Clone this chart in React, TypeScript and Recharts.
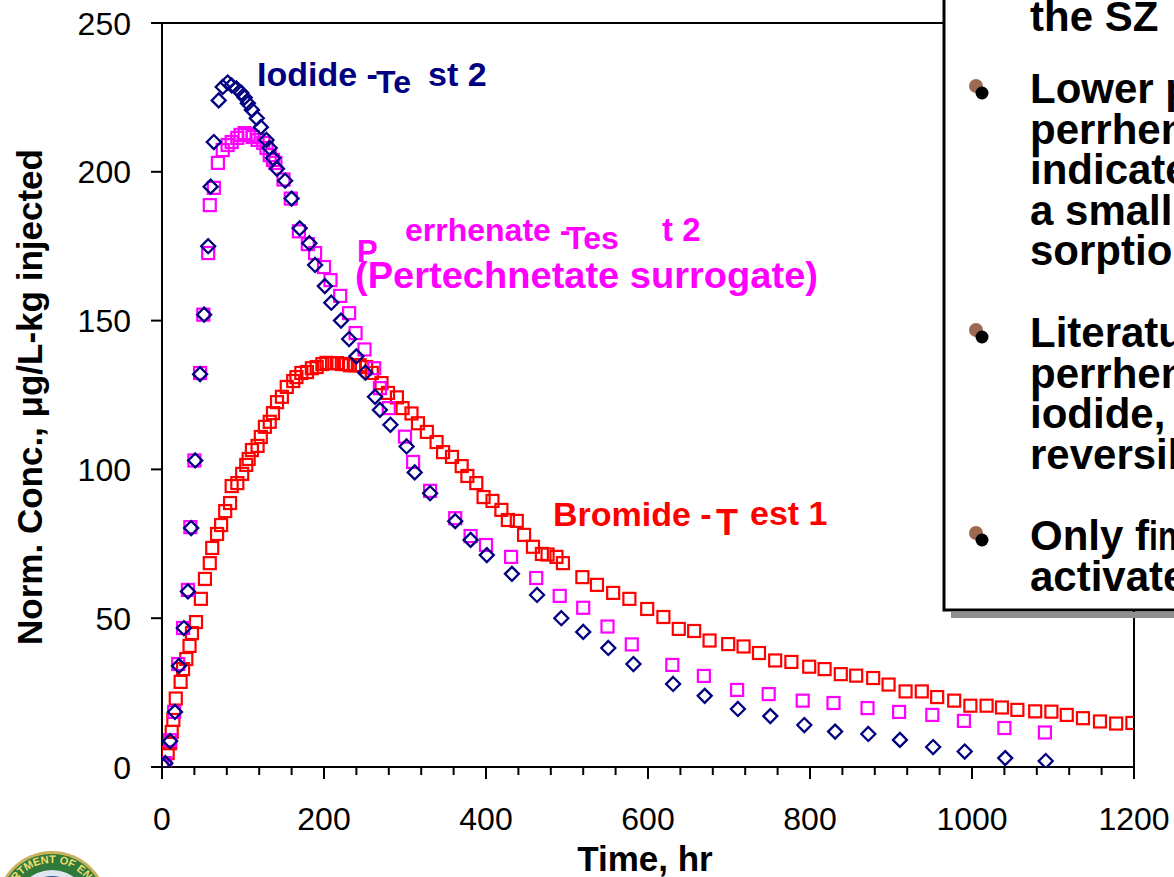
import { ReferenceLine, Scatter, ScatterChart, XAxis, YAxis } from "recharts";

// Iodide - Test 2 (navy diamonds)
const iodideTime = [1, 4, 10, 16, 21, 27, 32, 36, 41, 47, 52, 57, 60, 64, 70, 75, 81, 86, 92, 98, 102, 106, 111, 117, 122, 129, 133, 137, 142, 152, 160, 170, 182, 189, 201, 209, 221, 231, 240, 251, 263, 269, 282, 302, 312, 331, 362, 381, 401, 432, 463, 493, 520, 551, 582, 631, 670, 711, 751, 793, 831, 872, 911, 952, 991, 1041, 1091];
const iodideConc = [0.5, 1.3, 8.7, 18.5, 34, 46.7, 59, 80.3, 103, 132, 152, 175, 195, 210, 224, 228.5, 230, 229, 228, 226.5, 225, 223, 220.8, 218, 215, 210.7, 208, 204.6, 201, 197, 191, 181, 176, 168.7, 161.6, 156, 150, 143.8, 138, 132.5, 124.4, 120, 115, 107.7, 99, 92, 82.6, 76.3, 71.2, 64.9, 57.8, 50, 45.4, 40, 34.6, 27.9, 23.9, 19.5, 17.1, 14.1, 11.9, 11.1, 9.1, 6.7, 5.2, 3, 2];

// Perrhenate - Test 2 (magenta squares)
const perrhenateTime = [0, 4, 10, 15, 20, 26, 32, 35, 40, 47, 51, 57, 59, 64, 69, 75, 81, 86, 93, 97, 102, 107, 112, 118, 125, 129, 133, 137, 140, 150, 159, 169, 180, 189, 200, 208, 220, 231, 239, 250, 262, 269, 280, 300, 310, 331, 362, 381, 400, 431, 462, 491, 520, 550, 580, 630, 669, 710, 749, 791, 829, 871, 910, 951, 990, 1040, 1090];
const perrhenateConc = [0.3, 1.3, 9, 18.5, 34.6, 46.7, 59.5, 80.6, 103, 132.4, 152, 172.7, 188.8, 194.6, 203, 207.3, 209, 210, 211.4, 212.4, 213, 212.4, 211.7, 210.7, 209.7, 208, 205.6, 204, 203, 197.4, 191, 180, 175.7, 172.7, 168, 163.6, 158.3, 152.5, 145.8, 140.3, 134, 127.3, 120.6, 111, 102.5, 92.8, 83.6, 77.6, 74.6, 70.6, 63.5, 57.5, 53.5, 47.2, 41.2, 34.3, 30.6, 25.9, 24.5, 22.3, 21.5, 19.8, 18.5, 17.5, 15.5, 13.1, 11.6];

// Bromide - Test 1 (red squares)
const bromideTime = [0, 7, 10, 12, 14, 17, 23, 26, 30, 34, 37, 42, 48, 53, 59, 62, 68, 73, 78, 84, 86, 93, 99, 104, 107, 111, 118, 122, 127, 133, 137, 142, 148, 154, 162, 166, 172, 179, 185, 191, 198, 203, 210, 216, 222, 227, 232, 238, 244, 252, 259, 271, 279, 290, 297, 308, 316, 327, 339, 347, 358, 370, 377, 388, 397, 408, 419, 427, 438, 447, 458, 469, 476, 487, 495, 519, 537, 557, 577, 599, 619, 638, 657, 676, 699, 718, 737, 757, 777, 799, 818, 838, 857, 878, 897, 918, 938, 957, 978, 998, 1018, 1037, 1056, 1078, 1098, 1117, 1137, 1158, 1178, 1198];
const bromideConc = [1.3, 4.7, 8, 11.8, 15.8, 23, 28.6, 32.9, 36.3, 40.7, 45, 48.7, 56.5, 63.2, 68.5, 73.6, 78.3, 81.3, 86, 88.7, 94.4, 95.4, 98.5, 101.5, 103.5, 106.5, 107.9, 110.9, 114.3, 116, 118.9, 122.6, 124.4, 127.7, 129.7, 131, 132.4, 132.7, 134, 134.4, 135.4, 135.8, 135.7, 135.7, 135.4, 135.4, 135, 135, 135, 134.4, 132.4, 129, 125.7, 124.2, 120.6, 118.8, 115.5, 112.6, 109.2, 105.8, 104.2, 101.1, 97.8, 95.4, 90.7, 89.4, 86.4, 83, 82.7, 78, 74, 71.6, 71.4, 70.6, 68.5, 63.8, 61.2, 58.5, 56.5, 53.1, 50.4, 46.4, 45.7, 42.5, 41.3, 40.5, 38.3, 35.8, 35.3, 33.7, 32.9, 31.2, 30.7, 29.9, 27.7, 25.4, 25.4, 23.5, 22.3, 20.6, 20.6, 20, 19.2, 18.7, 18.6, 17.5, 16.4, 15.3, 14.6, 14.8];

const timeTicks = [0, 40, 80, 120, 160, 200, 240, 280, 320, 360, 400, 440, 480, 520, 560, 600, 640, 680, 720, 760, 800, 840, 880, 920, 960, 1000, 1040, 1080, 1120, 1160, 1200];
const concTicks = [0, 50, 100, 150, 200, 250];

const boxLines = [
  { text: "the SZ", y: 31 },
  { text: "Lower peak", y: 103, bullet: true },
  { text: "perrhenate", y: 143.5 },
  { text: "indicates", y: 184 },
  { text: "a small amount", y: 224.5 },
  { text: "sorption", y: 265 },
  { text: "Literature", y: 347, bullet: true },
  { text: "perrhenate", y: 387.5 },
  { text: "iodide, both", y: 428 },
  { text: "reversible", y: 468.5 },
  { text: "Only f", y: 550, bullet: true },
  { text: "activated", y: 590.5 },
];

const pairs = (xs: number[], ys: number[]) => xs.map((x, i) => ({ x, y: ys[i] }));
const iodide = pairs(iodideTime, iodideConc);
const perrhenate = pairs(perrhenateTime, perrhenateConc);
const bromide = pairs(bromideTime, bromideConc);

const FONT = '"Liberation Sans", Arial, Helvetica, sans-serif';

function Diamond(props: any) {
  const { cx, cy } = props;
  if (cx == null || cy == null) return null;
  const r = 7;
  return (
    <path
      d={`M${cx},${cy - r} L${cx + r},${cy} L${cx},${cy + r} L${cx - r},${cy} Z`}
      fill="none"
      stroke="#000080"
      strokeWidth={2.3}
    />
  );
}

function squareShape(color: string) {
  return (props: any) => {
    const { cx, cy } = props;
    if (cx == null || cy == null) return null;
    return <rect x={cx - 6} y={cy - 6} width={12} height={12} fill="none" stroke={color} strokeWidth={2.2} />;
  };
}

function TimeTick(props: any) {
  const { x, y, payload } = props;
  const major = payload.value % 200 === 0;
  return (
    <g>
      <line x1={x} y1={y} x2={x} y2={y + (major ? 12 : 8)} stroke="#000" strokeWidth={2} />
      {major && (
        <text x={x} y={y + 63} textAnchor="middle" fontSize={32} fontFamily={FONT} fill="#000">
          {payload.value}
        </text>
      )}
    </g>
  );
}

function ConcTick(props: any) {
  const { x, y, payload } = props;
  return (
    <g>
      <line x1={x - 11} y1={y} x2={x} y2={y} stroke="#000" strokeWidth={2} />
      <text x={x - 31} y={y + 11.5} textAnchor="end" fontSize={32} fontFamily={FONT} fill="#000">
        {payload.value}
      </text>
    </g>
  );
}

export default function App() {
  return (
    <div style={{ position: "relative", width: 1174, height: 877, overflow: "hidden", background: "#fff", fontFamily: FONT }}>
      <style>{`body{margin:0}`}</style>
      <ScatterChart width={1174} height={877} margin={{ top: 23, right: 40, bottom: 50, left: 82 }}>
        <XAxis
          type="number"
          dataKey="x"
          domain={[0, 1200]}
          ticks={timeTicks}
          interval={0}
          tick={<TimeTick />}
          tickLine={false}
          tickSize={0}
          tickMargin={0}
          height={60}
          axisLine={{ stroke: "#000", strokeWidth: 2 }}
          allowDataOverflow
        />
        <YAxis
          type="number"
          dataKey="y"
          domain={[0, 250]}
          ticks={concTicks}
          interval={0}
          tick={<ConcTick />}
          tickLine={false}
          tickSize={0}
          tickMargin={0}
          width={80}
          axisLine={{ stroke: "#000", strokeWidth: 2 }}
          allowDataOverflow
        />
        <ReferenceLine y={250} stroke="#000" strokeWidth={2} />
        <ReferenceLine x={1200} stroke="#000" strokeWidth={2} />
        <Scatter data={bromide} shape={squareShape("#ff0000")} isAnimationActive={false} />
        <Scatter data={perrhenate} shape={squareShape("#ff00ff")} isAnimationActive={false} />
        <Scatter data={iodide} shape={<Diamond />} isAnimationActive={false} />
      </ScatterChart>

      <svg width={1174} height={877} style={{ position: "absolute", left: 0, top: 0, pointerEvents: "none" }} fontFamily={FONT}>
        {/* axis titles */}
        <text x={645} y={871} textAnchor="middle" fontSize={35} fontWeight="bold" fill="#000">
          Time, hr
        </text>
        <text transform="translate(42,397) rotate(-90)" textAnchor="middle" fontSize={35} fontWeight="bold" fill="#000">
          Norm. Conc., μg/L-kg injected
        </text>

        {/* series annotations */}
        <g fontWeight="bold" fill="#000080" fontSize={34}>
          <text x={257} y={86}>Iodide -</text>
          <text x={376} y={93} fontSize={32}>Te</text>
          <text x={428} y={86}>st 2</text>
        </g>
        <g fontWeight="bold" fill="#ff00ff">
          <text x={357} y={262} fontSize={31}>P</text>
          <text x={405} y={241} fontSize={32}>errhenate -</text>
          <text x={566} y={249} fontSize={32}>Tes</text>
          <text x={662} y={241} fontSize={33}>t 2</text>
          <text x={355} y={288} fontSize={37} textLength={463} lengthAdjust="spacingAndGlyphs">
            (Pertechnetate surrogate)
          </text>
        </g>
        <g fontWeight="bold" fill="#ff0000" fontSize={34}>
          <text x={553} y={526}>Bromide -</text>
          <text x={716} y={535} fontSize={36}>T</text>
          <text x={750} y={525}>est 1</text>
        </g>

        {/* text box on the right */}
        <rect x={951} y={612} width={240} height={6} fill="#8f8f8f" />
        <rect x={944} y={-10} width={250} height={620} fill="#fff" stroke="#000" strokeWidth={3} />
        {boxLines.map((l, i) => (
          <g key={i}>
            {l.bullet && (
              <>
                <circle cx={976} cy={l.y - 17} r={7} fill="#9c6a52" />
                <circle cx={982} cy={l.y - 10} r={6.5} fill="#000" />
              </>
            )}
            <text x={1030} y={l.y} fontSize={42} fontWeight="bold" fill="#000">
              {l.text}
            </text>
          </g>
        ))}
        <text x={1149} y={550} fontSize={40} fontWeight={900} fill="#000" transform="translate(1149,0) scale(0.8,1) translate(-1149,0)">
          in
        </text>

        {/* seal, bottom-left corner */}
        <circle cx={52} cy={907} r={56} fill="#c8b25a" />
        <circle cx={52} cy={907} r={53} fill="#2f7a3a" />
        <circle cx={52} cy={907} r={37} fill="#dfe6ef" />
        <circle cx={52} cy={907} r={31} fill="#2b4f8c" />
        <path id="sealArc" d="M8,907 A44,44 0 0,1 96,907" fill="none" />
        <text fontSize={11} fontWeight="bold" fill="#f1dd6e">
          <textPath href="#sealArc" startOffset="50%" textAnchor="middle">
            DEPARTMENT OF ENERGY
          </textPath>
        </text>
      </svg>
    </div>
  );
}
